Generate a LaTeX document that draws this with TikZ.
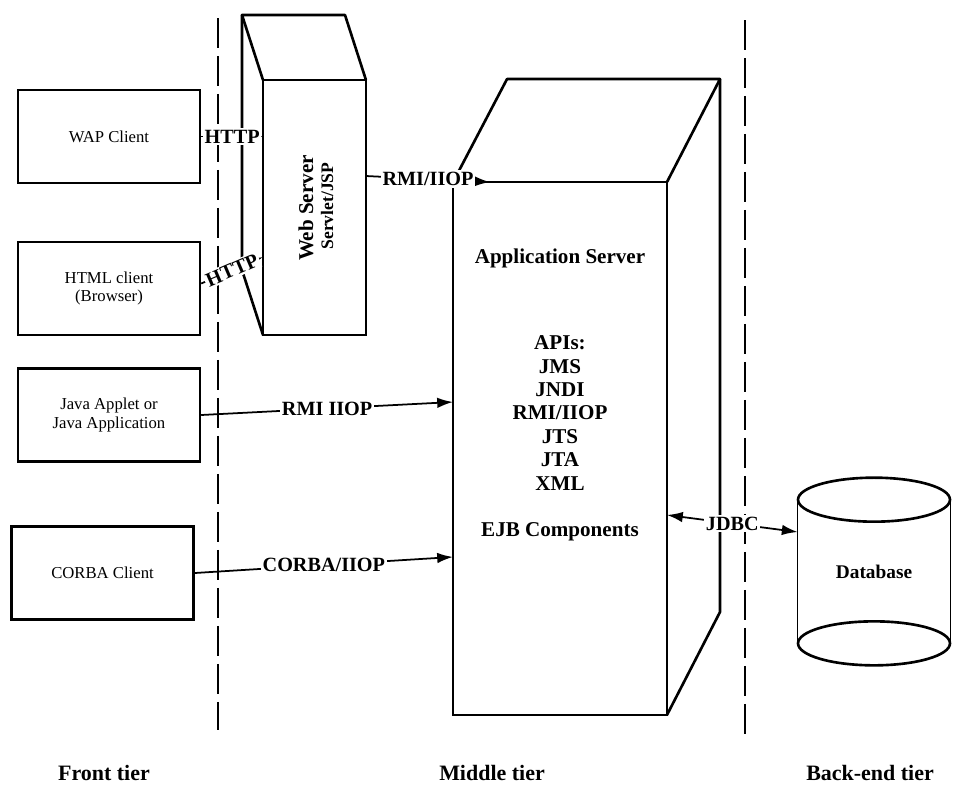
\documentclass[tikz,border=0pt]{standalone}
\usepackage{fontspec}
\setmainfont{Liberation Serif}
\usetikzlibrary{arrows.meta}

\tikzset{
  cliente/.style={draw, line width=1.4pt, minimum width=3.64cm, minimum height=1.86cm,
    align=center, inner sep=0pt, font=\fontsize{9.5}{10.5}\selectfont},
  scatola/.style={draw, line width=1.5pt, outer sep=0pt, inner sep=0pt},
  bordo/.style={line width=1.5pt, line join=round},
  separa/.style={line width=0.8pt, dash pattern=on 0.6cm off 0.16cm},
  freccia/.style={-{Latex[length=9pt,width=6pt]}, line width=1pt},
  etichetta/.style={fill=white, inner sep=1pt, font=\bfseries\fontsize{11.5}{12}\selectfont},
  testo/.style={font=\bfseries\fontsize{12}{13.3}\selectfont, align=center, inner sep=0pt},
  tier/.style={font=\bfseries\fontsize{12.5}{14}\selectfont}
}

\begin{document}
\begin{tikzpicture}[x=0.02cm,y=-0.02cm]
    \useasboundingbox (0,0) rectangle (964,789);
    %linee di separazione
    \draw[separa] (218,18) -- (218,730);
    \draw[separa] (745,20) -- (745,738);
    %client
    \node[cliente] (wap) at (109,136.5) {WAP Client};
    \node[cliente] (html) at (109,288.5) {HTML client\\(Browser)};
    \node[cliente] (java) at (109,415) {Java Applet or\\Java Application};
    \node[cliente] (corba) at (102.5,573) {CORBA Client};
    %web server
    \node[scatola, minimum width=2.06cm, minimum height=5.1cm] (web) at (314.5,207.5) {};
    \draw[bordo] (web.north west) -- ++(-21,-65) -- ++(103,0) -- (web.north east);
    \draw[bordo] (web.north west) ++(-21,-65) -- ++(0,255) -- (web.south west);
    \node[testo, rotate=90] (webname) at (306,208) {Web Server};
    \node[testo, rotate=90, font=\bfseries\fontsize{10}{11}\selectfont] (servlet) at (327,206) {Servlet/JSP};
    %application server
    \node[scatola, minimum width=4.28cm, minimum height=10.66cm] (app) at (560,448.5) {};
    \draw[bordo] (app.north west) -- ++(54,-103) -- ++(213,0) -- (app.north east);
    \draw[bordo] (app.north east) ++(53,-103) -- ++(0,533) -- (app.south east);
    \node[testo] (appname) at (560,258) {Application Server};
    \node[testo] (apis) at (560,413) {APIs:\\JMS\\JNDI\\RMI/IIOP\\JTS\\JTA\\XML};
    \node[testo] (ejb) at (560,532) {EJB Components};
    %database
    \node[minimum width=3.04cm, minimum height=2.86cm, font=\bfseries\fontsize{11}{12}\selectfont] (db) at (874,571.5) {Database};
    \draw[bordo] (db.north) ellipse [x radius=1.52cm, y radius=0.44cm];
    \draw[bordo] (db.south) ellipse [x radius=1.52cm, y radius=0.44cm];
    \draw[line width=0.8pt] (db.north west) -- (db.south west) (db.north east) -- (db.south east);
    %connessioni
    \draw[freccia] (wap.east) -- node[etichetta]{HTTP} (web.west |- wap.east);
    \draw[freccia] ([yshift=0.1cm]html.east) -- node[etichetta, sloped]{HTTP} ([yshift=1.56cm]web.south west);
    \draw[freccia] ([yshift=0.63cm]web.east) -- node[etichetta]{RMI/IIOP} ([xshift=0.74cm]app.north west);
    \draw[freccia] (java.east) -- node[etichetta]{RMI IIOP} ([yshift=0.93cm]app.west);
    \draw[freccia] (corba.east) -- node[etichetta]{CORBA/IIOP} ([yshift=-2.17cm]app.west);
    \draw[freccia, {Latex[length=9pt,width=6pt]}-{Latex[length=9pt,width=6pt]}] ([yshift=-1.33cm]app.east) -- node[etichetta]{JDBC} ([yshift=0.79cm]db.west);
    %livelli
    \node[tier] (front) at (104,773) {Front tier};
    \node[tier] (middle) at (492,773) {Middle tier};
    \node[tier] (back) at (870,773) {Back-end tier};
\end{tikzpicture}
\end{document}
